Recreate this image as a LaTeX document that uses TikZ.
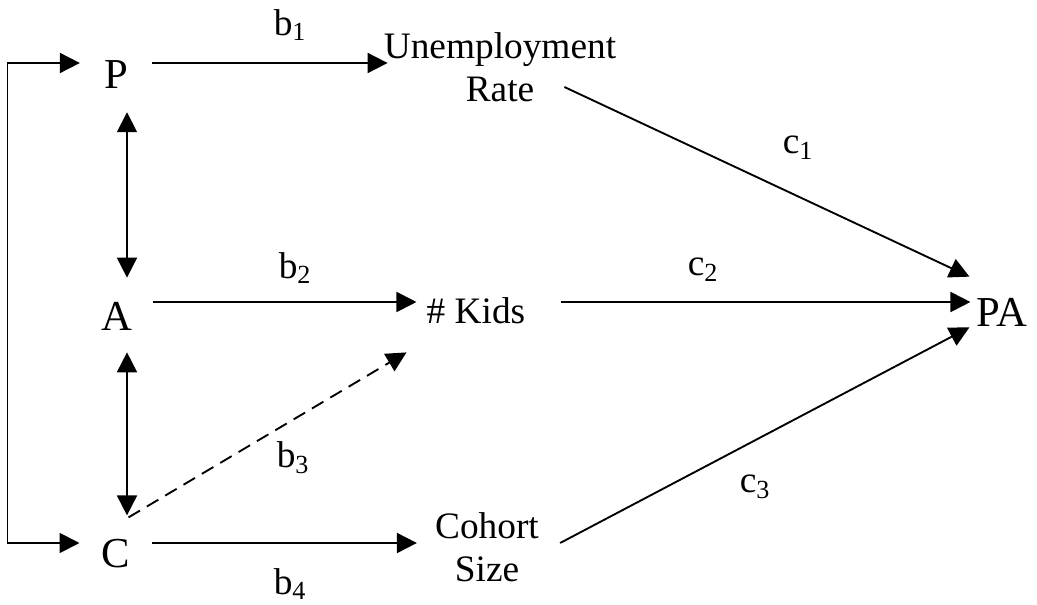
\documentclass[tikz,border=0pt]{standalone}
\usepackage{fontspec}
\setmainfont{Liberation Serif}
\usetikzlibrary{arrows.meta,calc}

\begin{document}
\begin{tikzpicture}[
  x=0.75pt, y=-0.75pt,
  font=\fontsize{28}{32}\selectfont, >={Triangle[length=15pt,width=15pt]},
  var/.style={inner sep=0pt, align=center},
  big/.style={var, font=\fontsize{32}{36}\selectfont},
  coef/.style={inner sep=0pt},
  link/.style={->, line width=1.4pt},
  both/.style={<->, line width=1.4pt},
  guess/.style={link, dash pattern=on 10pt off 6pt},
]
\useasboundingbox (0,0) rectangle (1037,605);
% period, age, cohort
\node[big] (P) at (116,75) {P};
\node[big] (A) at (117,316) {A};
\node[big] (C) at (116,554) {C};
% mediators and outcome
\node[var] (unemp) at (500,67) {Unemployment\\Rate};
\node[var] (kids) at (476,311) {\# Kids};
\node[var] (cohort) at (487,547) {Cohort\\Size};
\node[big] (PA) at (1002,312) {PA};
% coefficients
\node[coef] (b1) at (290,25) {b\textsubscript{1}};
\node[coef] (b2) at (295,268) {b\textsubscript{2}};
\node[coef] (b3) at (293,458) {b\textsubscript{3}};
\node[coef] (b4) at (290,584) {b\textsubscript{4}};
\node[coef] (c1) at (798,148) {c\textsubscript{1}};
\node[coef] (c2) at (703,270) {c\textsubscript{2}};
\node[coef] (c3) at (755,487) {c\textsubscript{3}};
% links among P, A, C
\draw[both] ($(C.west)+(-22,-11)$) -- ++(-72,0) |- ($(P.west)+(-24,-12)$);
\draw[both] ($(P.south)+(11,23)$) -- ($(A.north)+(10,-24)$);
\draw[both] ($(A.south)+(10,22)$) -- ($(C.north)+(11,-24)$);
% first stage
\draw[link] ($(P.east)+(24,-12)$) -- ($(unemp.west)+(4,-4)$);
\draw[link] ($(A.east)+(20,-14)$) -- ($(kids.west)+(-10,-9)$);
\draw[guess] ($(C.north east)+(-2,-22)$) -- ($(kids.south west)+(-20,28)$);
\draw[link] ($(C.east)+(22,-11)$) -- ($(cohort.west)+(-18,-4)$);
% second stage
\draw[link] ($(unemp.east)+(-52,20)$) -- ($(PA.north west)+(-7,-21)$);
\draw[link] ($(kids.east)+(35,-9)$) -- ($(PA.west)+(-6,-10)$);
\draw[link] ($(cohort.east)+(21,-4)$) -- ($(PA.south west)+(-7,1)$);
\end{tikzpicture}
\end{document}
